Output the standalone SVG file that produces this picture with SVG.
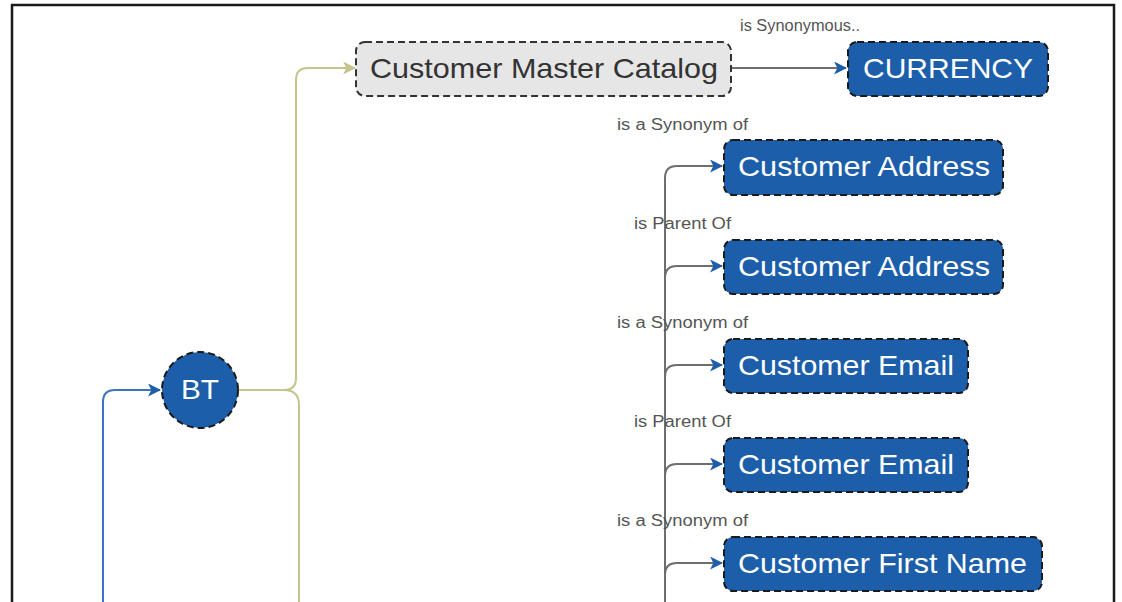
<svg xmlns="http://www.w3.org/2000/svg" width="1122" height="602" viewBox="0 0 1122 602">
<style>
.node{fill:#1c5ea9;stroke:#1a1a1a;stroke-width:2;stroke-dasharray:7 4}
.gnode{fill:#e6e6e6;stroke:#333;stroke-width:2;stroke-dasharray:7 4}
.nt{font-family:"Liberation Sans",Arial,sans-serif;font-size:28px;fill:#fff}
.gt{font-family:"Liberation Sans",Arial,sans-serif;font-size:28px;fill:#333}
.lbl{font-family:"Liberation Sans",Arial,sans-serif;font-size:16px;fill:#555}
.gray{fill:none;stroke:#6e6e6e;stroke-width:2}
.olive{fill:none;stroke:#c4c48c;stroke-width:2}
.blue{fill:none;stroke:#3a74c4;stroke-width:2}
</style>
<defs>
<marker id="ab" viewBox="0 0 12 12" refX="11" refY="6" markerWidth="13" markerHeight="13" markerUnits="userSpaceOnUse" orient="auto"><path d="M0,0 L12,6 L0,12 L3,6 Z" fill="#1c5ea9"/></marker>
<marker id="ao" viewBox="0 0 12 12" refX="11" refY="6" markerWidth="13" markerHeight="13" markerUnits="userSpaceOnUse" orient="auto"><path d="M0,0 L12,6 L0,12 L3,6 Z" fill="#c4c48c"/></marker>
</defs>
<rect width="1122" height="602" fill="#fff"/>
<path d="M12,602 V5 H1114 V602" fill="none" stroke="#1a1a1a" stroke-width="2.5"/>
<g id="connectors">
<path class="blue" d="M103,602 V402 Q103,390 115,390 H160" marker-end="url(#ab)"/>
<path class="olive" d="M238,390 H284 Q296,390 296,378 V80 Q296,68 308,68 H355" marker-end="url(#ao)"/>
<path class="olive" d="M284,390 Q299,390 299,405 V602"/>
<path class="gray" d="M731,68 H846" marker-end="url(#ab)"/>
<path class="gray" d="M665,602 V178 Q665,166 677,166 H722" marker-end="url(#ab)"/>
<path class="gray" d="M665,278 Q665,266 677,266 H722" marker-end="url(#ab)"/>
<path class="gray" d="M665,377 Q665,365 677,365 H722" marker-end="url(#ab)"/>
<path class="gray" d="M665,476 Q665,464 677,464 H722" marker-end="url(#ab)"/>
<path class="gray" d="M665,575 Q665,563 677,563 H722" marker-end="url(#ab)"/>
<text class="lbl" x="740" y="31" textLength="120" lengthAdjust="spacingAndGlyphs">is Synonymous..</text>
<text class="lbl" x="617" y="130" textLength="131" lengthAdjust="spacingAndGlyphs">is a Synonym of</text>
<text class="lbl" x="634" y="229" textLength="97" lengthAdjust="spacingAndGlyphs">is Parent Of</text>
<text class="lbl" x="617" y="328" textLength="131" lengthAdjust="spacingAndGlyphs">is a Synonym of</text>
<text class="lbl" x="634" y="427" textLength="97" lengthAdjust="spacingAndGlyphs">is Parent Of</text>
<text class="lbl" x="617" y="526" textLength="131" lengthAdjust="spacingAndGlyphs">is a Synonym of</text>
</g>
<g id="bt"><circle class="node" cx="200" cy="390" r="38"/><text class="nt" x="181" y="399" textLength="38" lengthAdjust="spacingAndGlyphs">BT</text></g>
<g id="cmc"><rect class="gnode" x="356" y="42" width="375" height="54" rx="9"/><text class="gt" x="370" y="78" textLength="348" lengthAdjust="spacingAndGlyphs">Customer Master Catalog</text></g>
<g id="currency"><rect class="node" x="848" y="42" width="200" height="54" rx="9"/><text class="nt" x="863" y="78" textLength="170" lengthAdjust="spacingAndGlyphs">CURRENCY</text></g>
<g id="addr1"><rect class="node" x="724" y="140" width="279" height="55" rx="9"/><text class="nt" x="738" y="176" textLength="252" lengthAdjust="spacingAndGlyphs">Customer Address</text></g>
<g id="addr2"><rect class="node" x="724" y="240" width="279" height="54" rx="9"/><text class="nt" x="738" y="276" textLength="252" lengthAdjust="spacingAndGlyphs">Customer Address</text></g>
<g id="email1"><rect class="node" x="724" y="339" width="244" height="54" rx="9"/><text class="nt" x="738" y="375" textLength="216" lengthAdjust="spacingAndGlyphs">Customer Email</text></g>
<g id="email2"><rect class="node" x="724" y="438" width="244" height="54" rx="9"/><text class="nt" x="738" y="474" textLength="216" lengthAdjust="spacingAndGlyphs">Customer Email</text></g>
<g id="fname"><rect class="node" x="724" y="537" width="318" height="54" rx="9"/><text class="nt" x="738" y="573" textLength="289" lengthAdjust="spacingAndGlyphs">Customer First Name</text></g>
</svg>
